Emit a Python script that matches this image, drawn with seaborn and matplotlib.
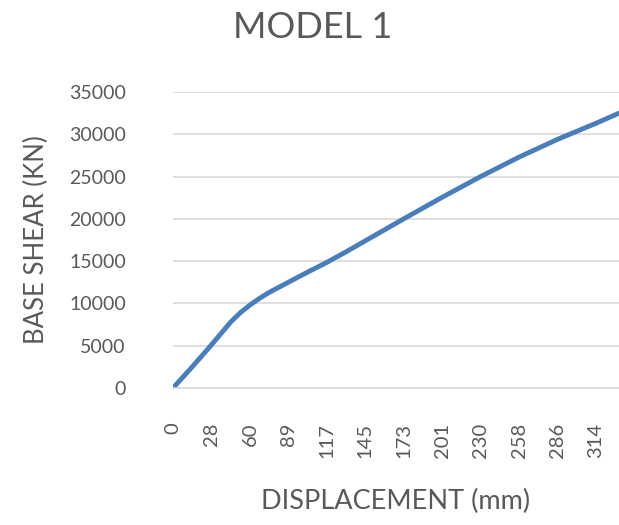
import matplotlib
matplotlib.use("Agg")
import matplotlib.pyplot as plt
import seaborn as sns
import pandas as pd

# category axis labels (displacement, mm), evenly spaced like an Excel category axis
tick_labels = ["0", "28", "60", "89", "117", "145", "173", "201", "230", "258", "286", "314"]

# curve: position along the category axis -> base shear (kN)
axis_pos = [0, 0.5, 1, 1.5, 1.75, 2, 2.25, 2.5, 2.75, 3, 3.5, 4, 4.5, 5,
            6, 7, 8, 9, 10, 11, 11.6]
base_shear = [0, 2500, 5100, 7800, 8900, 9800, 10600, 11300, 11900, 12500,
              13700, 14850, 16100, 17400, 20000, 22550, 25000, 27300, 29400,
              31300, 32500]

y_ticks = [0, 5000, 10000, 15000, 20000, 25000, 30000, 35000]

sns.set_style("white")
plt.rcParams["font.family"] = ["Lato", "DejaVu Sans"]
text_color = "#595959"

df = pd.DataFrame({"pos": axis_pos, "shear": base_shear})

fig = plt.figure(figsize=(6.19, 5.25), dpi=100)
ax = fig.add_axes([173 / 619, (525 - 388) / 525, 1 - 173 / 619, (388 - 92) / 525])

sns.lineplot(data=df, x="pos", y="shear", ax=ax, color="#4a7ebb", linewidth=3.5,
             solid_capstyle="round", solid_joinstyle="round")

ax.set_xlim(0, 11.6)
ax.set_ylim(0, 35000)
ax.set_yticks(y_ticks)
ax.set_yticklabels([str(v) for v in y_ticks])
ax.set_xticks(range(len(tick_labels)))
ax.set_xticklabels(tick_labels, rotation=90, va="top")

ax.grid(axis="y", color="#d9d9d9", linewidth=1.2)
ax.set_axisbelow(True)
for side in ["left", "right", "top"]:
    ax.spines[side].set_visible(False)
ax.spines["bottom"].set_color("#d9d9d9")
ax.spines["bottom"].set_linewidth(1.2)

ax.tick_params(axis="y", length=0, pad=34, labelsize=14, labelcolor=text_color)
ax.tick_params(axis="x", length=0, pad=25, labelsize=14.5, labelcolor=text_color)

ax.set_xlabel("DISPLACEMENT (mm)", fontsize=19.5, color=text_color, labelpad=22)
ax.set_ylabel("BASE SHEAR (KN)", fontsize=18.5, color=text_color, labelpad=14)
fig.text(313 / 619, 1 - 28 / 525, "MODEL 1", fontsize=26, color=text_color,
         ha="center", va="center")

fig.savefig("out.png", dpi=100)
